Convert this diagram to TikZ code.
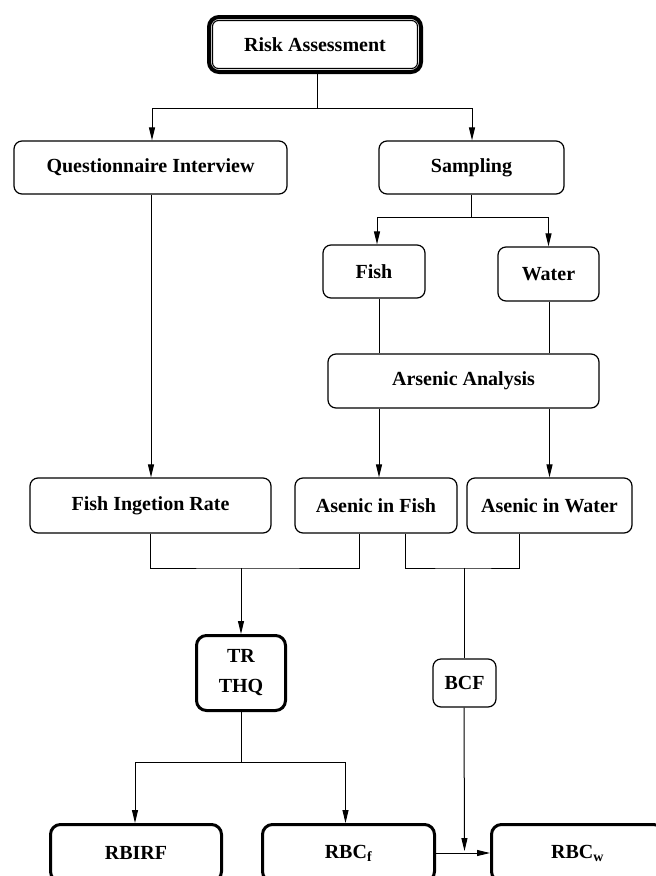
\documentclass[tikz,border=0pt]{standalone}
\usepackage{fontspec}
\setmainfont{Liberation Serif}
\usetikzlibrary{arrows.meta}
\tikzset{
  box/.style={draw, rounded corners=8pt, line width=1.2pt, inner sep=0pt,
    font=\bfseries\fontsize{20}{30}\selectfont, align=center},
  thickbox/.style={box, line width=3pt, rounded corners=10pt},
  conn/.style={line width=1pt},
  arr/.style={conn, -{Triangle[length=13pt,width=6pt]}}
}
\begin{document}
\begin{tikzpicture}[x=1pt,y=-1pt]
\useasboundingbox (0,0) rectangle (656,876);
\clip (0,0) rectangle (656,876);
% nodes
\node[box, line width=4pt, rounded corners=10pt, minimum width=212pt, minimum height=55pt] (risk) at (315,44.5) {Risk Assessment};
\draw[line width=1.1pt, rounded corners=6pt] ([shift={(5.5pt,-5.5pt)}]risk.north west) rectangle ([shift={(-5.5pt,5.5pt)}]risk.south east);
\node[box, minimum width=273pt, minimum height=53pt] (qi) at (150.5,167.5) {Questionnaire Interview};
\node[box, minimum width=185pt, minimum height=53pt] (samp) at (471.5,167.5) {Sampling};
\node[box, minimum width=102pt, minimum height=53pt] (fish) at (374,271.5) {Fish};
\node[box, minimum width=101pt, minimum height=54pt] (water) at (548.5,274) {Water};
\node[box, minimum width=271pt, minimum height=54pt] (ars) at (463.5,381) {Arsenic Analysis};
\node[box, minimum width=241pt, minimum height=55pt] (fir) at (150.5,505.5) {Fish Ingetion Rate};
\node[box, minimum width=162pt, minimum height=55pt] (aif) at (376,505.5) {Asenic in Fish};
\node[box, minimum width=165pt, minimum height=55pt] (aiw) at (549.5,505.5) {Asenic in Water};
\node[thickbox, minimum width=89pt, minimum height=75pt] (tr) at (241,673) {TR\\THQ};
\node[box, minimum width=63pt, minimum height=48pt] (bcf) at (464.5,683) {BCF};
\node[thickbox, minimum width=171pt, minimum height=57pt] (rbirf) at (136,853) {RBIRF};
\node[thickbox, minimum width=172pt, minimum height=57pt] (rbcf) at (348.5,853) {RBC\textsubscript{f}};
\node[thickbox, minimum width=172pt, minimum height=57pt] (rbcw) at (577.5,853) {RBC\textsubscript{w}};
% junction coordinates
\coordinate (j1) at (317,108);
\coordinate (j2) at (471,217);
\coordinate (cQ) at (151,0);
\coordinate (cF) at (379,0);
\coordinate (cW) at (549.5,0);
\coordinate (j3) at (241,568);
\coordinate (j4) at (464,568);
\coordinate (j5) at (241,762);
% connectors
\draw[conn] (risk.south -| j1) -- (j1);
\draw[arr] (j1) -| ([xshift=1.5pt]qi.north);
\draw[arr] (j1) -| ([xshift=0.5pt]samp.north);
\draw[conn] (samp.south -| j2) -- (j2);
\draw[arr] (j2) -| ([xshift=3pt]fish.north);
\draw[arr] (j2) -| (water.north);
\draw[conn] (fish.south -| cF) -- (ars.north -| cF);
\draw[conn] (water.south -| cW) -- (ars.north -| cW);
\draw[arr] (ars.south -| cF) -- (aif.north -| cF);
\draw[arr] (ars.south -| cW) -- (aiw.north -| cW);
\draw[arr] (qi.south -| cQ) -- (fir.north -| cQ);
\draw[conn] (fir.south) |- (j3) -| ([xshift=-17pt]aif.south);
\draw[arr] (j3) -- (tr.north);
\draw[conn] ([xshift=29pt]aif.south) |- (j4) -| ([xshift=-30.5pt]aiw.south);
\draw[conn] (j4) -- (bcf.north -| j4);
\draw[conn] (tr.south) -- (j5);
\draw[arr] (j5) -| ([xshift=-1pt]rbirf.north);
\draw[arr] (j5) -| ([xshift=-3pt]rbcf.north);
\draw[arr] (rbcf.east) -- (rbcw.west);
\draw[arr] (bcf.south -| j4) -- ([yshift=2pt]bcf.south |- rbcf.east);
\end{tikzpicture}
\end{document}
